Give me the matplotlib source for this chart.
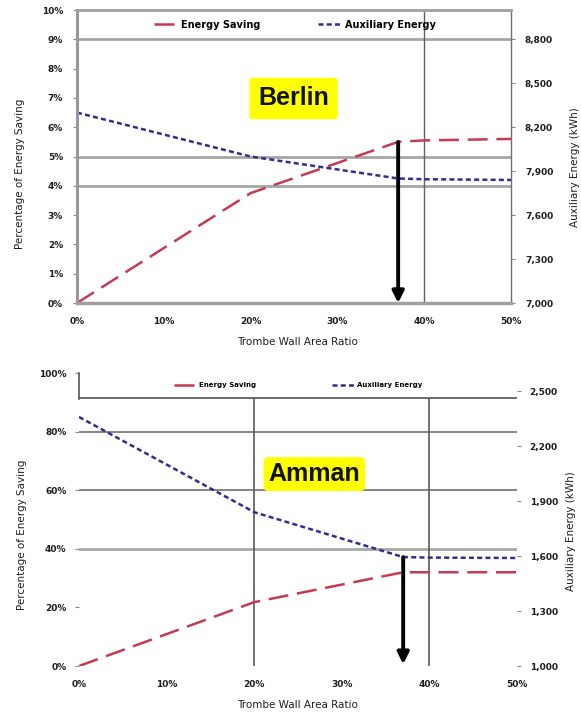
import matplotlib
matplotlib.use("Agg")
import matplotlib.pyplot as plt

# trombe wall area ratio (fraction) and results
ratio = [0.0, 0.2, 0.37, 0.4, 0.5]
berlin_saving = [0.0, 3.75, 5.5, 5.55, 5.6]       # %
berlin_aux = [8300, 8000, 7850, 7845, 7840]        # kWh
amman_saving = [0.0, 21.8, 32.0, 32.0, 32.0]      # %
amman_aux = [2360, 1840, 1595, 1592, 1590]         # kWh
best_ratio = 0.37

x_ticks = [0, 0.1, 0.2, 0.3, 0.4, 0.5]
x_labels = ["0%", "10%", "20%", "30%", "40%", "50%"]
berlin_pct_ticks = [0, 1, 2, 3, 4, 5, 6, 7, 8, 9, 10]
berlin_aux_ticks = [7000, 7300, 7600, 7900, 8200, 8500, 8800]
amman_pct_ticks = [0, 20, 40, 60, 80, 100]
amman_aux_ticks = [1000, 1300, 1600, 1900, 2200, 2500]

plt.rcParams['font.family'] = ['DejaVu Sans']
plt.rcParams['font.weight'] = 'bold'

RED = '#c43a52'
BLUE = '#2e2e8f'
TXT = '#1e1e1e'
ibest = ratio.index(best_ratio)

fig = plt.figure(figsize=(5.81, 7.15), dpi=100)

# ---------------- Berlin ----------------
ax = fig.add_axes([0.1325, 0.5762, 0.747, 0.4098])
ax2 = ax.twinx()
for v in [4, 5, 9]:
    ax.axhline(v, color='#a6a6a6', lw=2, zorder=1)
ax.axvline(0.4, color='#606060', lw=1, zorder=1)
ax.plot(ratio, berlin_saving, color=RED, lw=1.8, dashes=(8, 3.5), label='Energy Saving', zorder=3)
ax2.plot(ratio, berlin_aux, color=BLUE, lw=1.8, dashes=(2, 1.3), label='Auxiliary Energy')
ax.set_xlim(0, 0.5)
ax.set_ylim(0, 10)
ax2.set_ylim(7000, 9000)
ax.set_xticks(x_ticks, x_labels)
ax.set_yticks(berlin_pct_ticks, [f"{v}%" for v in berlin_pct_ticks])
ax2.set_yticks(berlin_aux_ticks, [f"{v:,}" for v in berlin_aux_ticks])
for s in ax.spines.values():
    s.set_visible(False)
ax2.spines['top'].set_color('#a0a0a0')
ax2.spines['top'].set_linewidth(2)
ax2.spines['left'].set_color('#999999')
ax2.spines['left'].set_linewidth(2.2)
ax2.spines['bottom'].set_color('#a0a0a0')
ax2.spines['bottom'].set_linewidth(2.5)
ax2.spines['right'].set_color('#707070')
ax2.spines['right'].set_linewidth(1)
ax.tick_params(axis='x', length=0, pad=10, labelsize=6.5, labelcolor=TXT)
ax.tick_params(axis='y', length=3, pad=7, labelsize=6.5, labelcolor=TXT, color='#888888')
ax2.tick_params(axis='y', length=3, pad=7, labelsize=6.5, labelcolor=TXT, color='#888888')
ax.annotate('', xy=(best_ratio, 0), xytext=(best_ratio, berlin_saving[ibest]),
            arrowprops=dict(arrowstyle='-|>', color='black', lw=2.8, mutation_scale=17,
                            shrinkA=0, shrinkB=0), zorder=5)
ax.text(0.499, 0.698, 'Berlin', transform=ax.transAxes, ha='center', va='center',
        fontsize=18, fontweight='bold', family='Liberation Sans', color='#111111',
        bbox=dict(boxstyle='round,pad=0.35,rounding_size=0.15', fc='#ffff00', ec='none'), zorder=6)
ax.set_xlabel('Trombe Wall Area Ratio', fontsize=7.5, color=TXT)
ax.xaxis.set_label_coords(0.507, -0.116)
ax.set_ylabel('Percentage of Energy Saving', fontsize=7.5, color=TXT, va='center')
ax.yaxis.set_label_coords(-0.131, 0.44)
ax2.set_ylabel('Auxiliary Energy (kWh)', fontsize=7.5, color=TXT, va='center', rotation=90)
ax2.yaxis.set_label_coords(1.147, 0.464)
h1, l1 = ax.get_legend_handles_labels()
h2, l2 = ax2.get_legend_handles_labels()
ax2.legend(h1 + h2, l1 + l2, loc='center', bbox_to_anchor=(0.502, 0.95), ncol=2,
           frameon=False, fontsize=7, handlelength=2.3, columnspacing=6, handletextpad=0.4)

# ---------------- Amman ----------------
ax3 = fig.add_axes([0.136, 0.0685, 0.754, 0.4098])
ax4 = ax3.twinx()
ax3.axhline(80, color='#707070', lw=1.2, zorder=1)
ax3.axhline(60, color='#707070', lw=1.2, zorder=1)
ax3.axhline(40, color='#a8a8a8', lw=2, zorder=1)
ax3.axhline(91.5, color='#505050', lw=1.2, zorder=1)
ax3.vlines([0.2, 0.4], 0, 91.5, color='#5a5a5a', lw=1.2, zorder=1)
ax3.plot(ratio, amman_saving, color=RED, lw=1.8, dashes=(8, 3.5), label='Energy Saving', zorder=3)
ax4.plot(ratio, amman_aux, color=BLUE, lw=1.8, dashes=(2, 1.3), label='Auxiliary Energy')
ax3.set_xlim(0, 0.5)
ax3.set_ylim(0, 100)
ax4.set_ylim(1000, 2600)
ax3.set_xticks(x_ticks, x_labels)
ax3.set_yticks(amman_pct_ticks, [f"{v}%" for v in amman_pct_ticks])
ax4.set_yticks(amman_aux_ticks, [f"{v:,}" for v in amman_aux_ticks])
for s in ax3.spines.values():
    s.set_visible(False)
for k in ['top', 'right', 'bottom']:
    ax4.spines[k].set_visible(False)
ax4.spines['left'].set_color('#555555')
ax4.spines['left'].set_linewidth(1.2)
ax4.spines['left'].set_bounds(2460, 2600)
ax3.tick_params(axis='x', length=0, pad=10, labelsize=6.5, labelcolor=TXT)
ax3.tick_params(axis='y', length=3, pad=6, labelsize=6.5, labelcolor=TXT, color='#888888')
ax4.tick_params(axis='y', length=3, pad=6, labelsize=6.5, labelcolor=TXT, color='#888888')
ax4.annotate('', xy=(best_ratio, 1010), xytext=(best_ratio, amman_aux[ibest]),
             arrowprops=dict(arrowstyle='-|>', color='black', lw=2.8, mutation_scale=17,
                             shrinkA=0, shrinkB=0), zorder=5)
ax3.text(0.537, 0.655, 'Amman', transform=ax3.transAxes, ha='center', va='center',
         fontsize=18, fontweight='bold', family='Liberation Sans', color='#111111',
         bbox=dict(boxstyle='round,pad=0.2,rounding_size=0.2', fc='#ffff00', ec='none'), zorder=6)
ax3.set_xlabel('Trombe Wall Area Ratio', fontsize=7.5, color=TXT)
ax3.xaxis.set_label_coords(0.498, -0.116)
ax3.set_ylabel('Percentage of Energy Saving', fontsize=7.5, color=TXT, va='center')
ax3.yaxis.set_label_coords(-0.13, 0.447)
ax4.set_ylabel('Auxiliary Energy (kWh)', fontsize=7.5, color=TXT, va='center', rotation=90)
ax4.yaxis.set_label_coords(1.123, 0.46)
h1, l1 = ax3.get_legend_handles_labels()
h2, l2 = ax4.get_legend_handles_labels()
ax4.legend(h1 + h2, l1 + l2, loc='center', bbox_to_anchor=(0.5, 0.959), ncol=2,
           frameon=False, fontsize=5, handlelength=3.2, columnspacing=11, handletextpad=0.4)

fig.savefig('out.png', dpi=100)
